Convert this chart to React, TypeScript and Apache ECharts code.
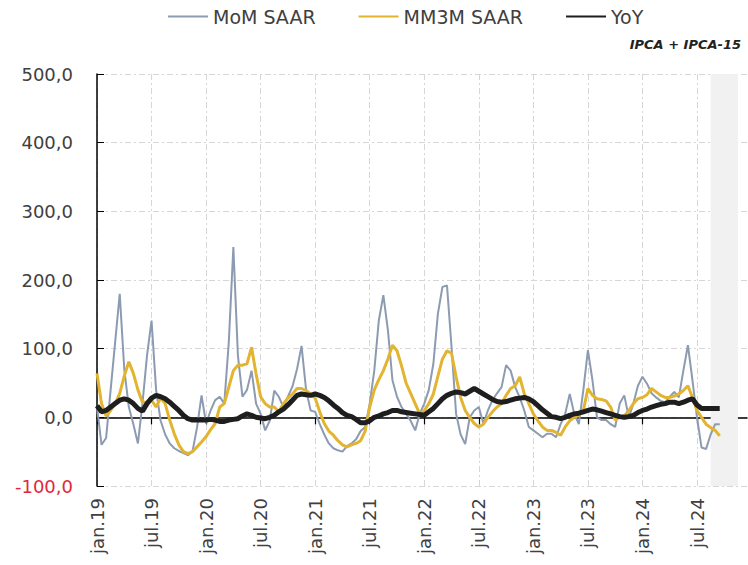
import React, { useEffect, useRef } from "react";
import * as echarts from "echarts";

const months = ["jan", "fev", "mar", "abr", "mai", "jun", "jul", "ago", "set", "out", "nov", "dez"];
const years = ["19", "20", "21", "22", "23", "24"];
const halves = ["", " (II)"];

const seriesNames = ["MoM SAAR", "MM3M SAAR", "YoY"];
const subtitle = "IPCA + IPCA-15";

const yTicks = [-100, 0, 100, 200, 300, 400, 500];

const momSaar = [
  15, -40, -30, 40, 110, 180, 70, 15, -10, -38, 20, 90, 141, 40, -5, -25, -38, -45, -49, -52,
  -55, -50, -15, 32, -9, 10, 25, 30, 20, 110, 248, 90, 30, 40, 68, 20, 5, -19, -5, 39,
  30, 15, 30, 45, 70, 104, 40, 10, 8, -10, -25, -38, -45, -48, -50, -42, -38, -32, -20, -14,
  20, 68, 141, 178, 127, 54, 30, 15, 5, -5, -19, 5, 20, 40, 78, 151, 190, 192, 102, 5,
  -25, -39, 0, 10, 15, -9, 10, 25, 35, 44, 76, 68, 44, 29, 10, -14, -19, -24, -29, -24,
  -24, -29, -10, 5, 34, 5, -10, 40, 98, 54, 0, -4, -4, -10, -14, 20, 32, 0, 20, 46,
  59, 49, 35, 29, 24, 22, 30, 37, 29, 68, 105, 54, 0, -44, -46, -25, -10, -10,
];

const mm3mSaar = [
  64, 20, 2, 10, 20, 35, 60, 81, 64, 40, 22, 22, 25, 15, 28, 20, -4, -24, -40, -50,
  -53, -50, -43, -36, -28, -18, -9, 15, 20, 44, 68, 76, 76, 78, 102, 63, 30, 20, 15, 15,
  8, 20, 28, 34, 42, 42, 39, 34, 28, 8, -9, -20, -26, -34, -40, -43, -40, -38, -34, -20,
  15, 40, 55, 68, 85, 105, 97, 75, 50, 35, 20, 5, 10, 20, 34, 60, 85, 97, 93, 59,
  29, 10, 0, -9, -14, -10, 0, 8, 15, 20, 32, 42, 46, 59, 34, 20, 5, -5, -14, -19,
  -19, -22, -26, -14, -5, 0, 3, 10, 42, 32, 27, 26, 24, 15, -4, 0, 2, 10, 20, 27,
  29, 33, 42, 37, 32, 29, 29, 31, 34, 39, 46, 29, 10, 0, -10, -15, -19, -27,
];

const yoy = [
  17, 8, 10, 15, 20, 25, 27, 25, 20, 13, 9, 20, 28, 32, 30, 27, 22, 16, 10, 3,
  -2, -4, -4, -4, -4, -3, -4, -6, -6, -4, -3, -2, 2, 5, 3, 0, -1, -2, 0, 3,
  8, 12, 18, 25, 32, 34, 33, 32, 34, 32, 29, 24, 18, 13, 7, 3, 1, -3, -8, -8,
  -5, 0, 2, 5, 7, 10, 10, 8, 7, 6, 5, 4, 3, 8, 13, 20, 27, 32, 35, 37,
  36, 34, 38, 42, 38, 34, 30, 26, 23, 22, 23, 25, 27, 28, 29, 27, 23, 17, 11, 6,
  1, 0, -2, 0, 3, 5, 6, 8, 10, 12, 11, 9, 7, 5, 3, 1, 0, 1, 3, 7,
  10, 12, 15, 17, 19, 20, 22, 22, 20, 22, 25, 27, 18, 13, 13, 13, 13, 13,
];

// shaded (projection) window, as category indices
const shadeRange = [135, 141];

const categories: string[] = [];
years.forEach((y) => months.forEach((m) => halves.forEach((h) => categories.push(`${m}.${y}${h}`))));

const colors = ["#8C9BB2", "#E2B42F", "#1E1E1E"];

export default function App() {
  const ref = useRef<HTMLDivElement>(null);
  useEffect(() => {
    document.body.style.margin = "0";
    const chart = echarts.init(ref.current!, null, { renderer: "svg" });
    const font = "DejaVu Sans";
    chart.setOption({
      animation: false,
      backgroundColor: "#ffffff",
      title: {
        text: subtitle,
        right: 2,
        top: 33,
        textStyle: { fontFamily: font, fontSize: 13, fontWeight: "bold", fontStyle: "italic", color: "#222" },
      },
      legend: {
        top: 2,
        left: 162,
        itemWidth: 40,
        itemHeight: 14,
        itemGap: 42,
        itemStyle: { opacity: 0, borderWidth: 0 },
        textStyle: { fontFamily: font, fontSize: 19, color: "#404040" },
        data: seriesNames,
      },
      grid: { left: 97, right: 1, top: 74, bottom: 79, containLabel: false },
      xAxis: [
        {
          type: "category",
          data: categories,
          boundaryGap: false,
          position: "bottom",
          axisLine: { show: false, onZero: false },
          axisTick: { show: false },
          axisLabel: {
            interval: 11,
            rotate: 90,
            margin: 12,
            fontFamily: font,
            fontSize: 18,
            color: "#404040",
          },
          splitLine: { show: true, interval: 11, lineStyle: { color: "#D6D6D6", type: [6, 3, 2, 3], width: 1 } },
        },
        {
          type: "category",
          data: categories,
          boundaryGap: false,
          position: "bottom",
          axisLine: { show: true, onZero: true, lineStyle: { color: "#000", width: 1.5 } },
          axisTick: { show: true, interval: 11, length: 7, lineStyle: { color: "#000", width: 1.2 } },
          axisLabel: { show: false },
          splitLine: { show: false },
        },
      ],
      yAxis: {
        type: "value",
        min: -100,
        max: 500,
        interval: 100,
        axisLine: { show: true, lineStyle: { color: "#000", width: 1.5 } },
        axisTick: { show: true, inside: true, length: 7, lineStyle: { color: "#000" } },
        axisLabel: {
          margin: 24,
          fontFamily: font,
          fontSize: 18,
          formatter: (v: number) => (yTicks.includes(v) ? v.toFixed(1).replace(".", ",") : ""),
          color: (v: any) => (Number(v) < 0 ? "#E0283A" : "#404040"),
        },
        splitLine: { show: true, lineStyle: { color: "#D6D6D6", type: [6, 3, 2, 3], width: 1 } },
      },
      series: [
        {
          name: seriesNames[0],
          type: "line",
          xAxisIndex: 1,
          data: momSaar,
          symbol: "none",
          lineStyle: { color: colors[0], width: 2 },
          itemStyle: { color: colors[0] },
          z: 2,
          markArea: {
            silent: true,
            itemStyle: { color: "#F1F1F1" },
            data: [[{ xAxis: shadeRange[0] }, { xAxis: shadeRange[1] }]],
          },
        },
        {
          name: seriesNames[1],
          type: "line",
          xAxisIndex: 1,
          data: mm3mSaar,
          symbol: "none",
          lineStyle: { color: colors[1], width: 3 },
          itemStyle: { color: colors[1] },
          z: 3,
        },
        {
          name: seriesNames[2],
          type: "line",
          xAxisIndex: 1,
          data: yoy,
          symbol: "none",
          lineStyle: { color: colors[2], width: 5 },
          itemStyle: { color: colors[2] },
          z: 4,
        },
      ],
    });
    return () => chart.dispose();
  }, []);
  return <div ref={ref} style={{ width: 748, height: 565 }} />;
}
